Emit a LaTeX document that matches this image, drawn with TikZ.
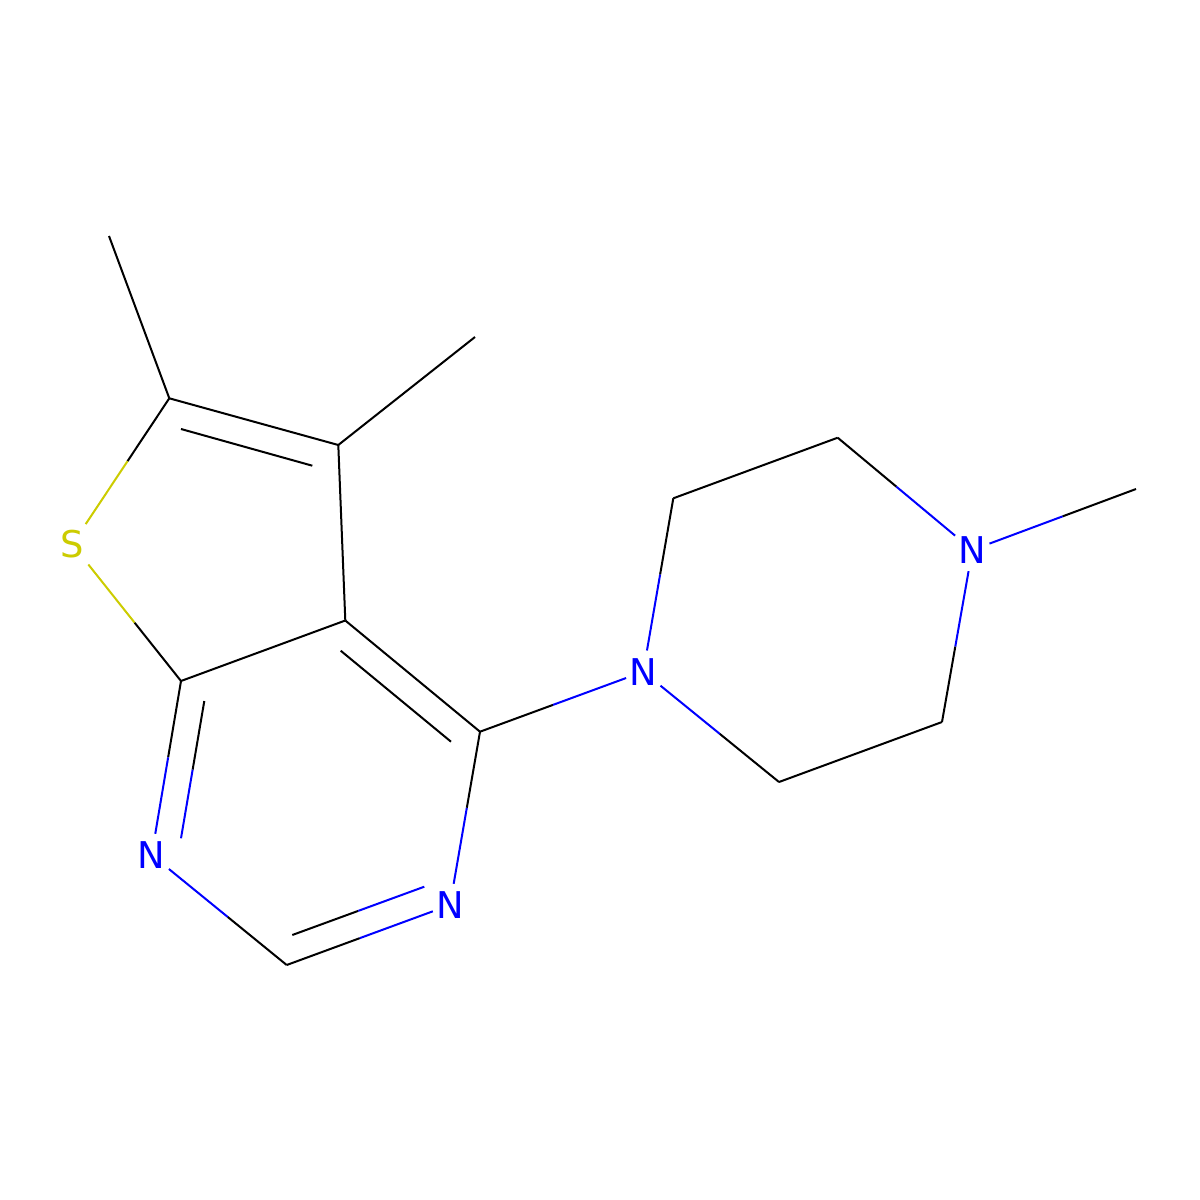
\documentclass[tikz,border=0pt]{standalone}
\usepackage{fontspec}
\setmainfont{DejaVu Sans}
\definecolor{nblue}{RGB}{0,0,255}
\definecolor{syel}{RGB}{204,204,0}
\tikzset{
  bondline/.style={line width=2bp, line cap=butt},
  atomlab/.style={rectangle, inner sep=0pt, minimum width=34bp, minimum height=42bp, font=\fontsize{37}{37}\selectfont},
  natom/.style={atomlab, text=nblue},
  satom/.style={atomlab, text=syel, minimum width=32bp, minimum height=40bp},
}
\newcommand\hbond[4]{%
  \path (#1) -- (#2) coordinate[pos=0.5] (hmid);
  \draw[bondline,#3] (#1) -- (hmid);
  \draw[bondline,#4] (hmid) -- (#2);}
\begin{document}
\begin{tikzpicture}[x=1bp,y=-1bp]
\useasboundingbox[fill=white] (0,0) rectangle (1200,1200);
% carbons
\coordinate (me1) at (109,236);
\coordinate (c6) at (169.3,398.3);
\coordinate (c5) at (338.3,445);
\coordinate (me2) at (475,337);
\coordinate (c7a) at (181,681);
\coordinate (c4a) at (345.3,620.5);
\coordinate (c4) at (480,731.7);
\coordinate (c2) at (286.7,965);
\coordinate (p1) at (673.3,498.3);
\coordinate (p2) at (837.7,437.7);
\coordinate (me3) at (1136,489);
\coordinate (p3) at (942,722);
\coordinate (p4) at (779,782);
% heteroatoms
\node[satom] (s) at (72.3,544.3) {S};
\node[natom] (n1) at (151.7,855) {N};
\node[natom] (n3) at (450,905) {N};
\node[natom] (np) at (643.3,671.7) {N};
\node[natom] (n4) at (972.3,550) {N};
% inner lines of double bonds
\coordinate (d1a) at (181,429);
\coordinate (d1b) at (312.3,465.7);
\coordinate (d2a) at (340.7,650.7);
\coordinate (d2b) at (451,741.7);
\coordinate (d3a) at (204.3,701);
\coordinate (d3b) at (181,838.3);
\coordinate (d4a) at (292.3,935);
\coordinate (d4b) at (424.3,886.7);
% bonds
\draw[bondline] (me1) -- (c6);
\draw[bondline] (c6) -- (c5);
\draw[bondline] (d1a) -- (d1b);
\draw[bondline] (c5) -- (me2);
\draw[bondline] (c5) -- (c4a);
\draw[bondline] (c4a) -- (c7a);
\draw[bondline] (c4a) -- (c4);
\draw[bondline] (d2a) -- (d2b);
\hbond{c6}{s}{black}{syel}
\hbond{s}{c7a}{syel}{black}
\hbond{c7a}{n1}{black}{nblue}
\hbond{d3a}{d3b}{black}{nblue}
\hbond{n1}{c2}{nblue}{black}
\hbond{c2}{n3}{black}{nblue}
\hbond{d4a}{d4b}{black}{nblue}
\hbond{n3}{c4}{nblue}{black}
\hbond{c4}{np}{black}{nblue}
\hbond{np}{p1}{nblue}{black}
\draw[bondline] (p1) -- (p2);
\hbond{p2}{n4}{black}{nblue}
\hbond{n4}{me3}{nblue}{black}
\hbond{n4}{p3}{nblue}{black}
\draw[bondline] (p3) -- (p4);
\hbond{p4}{np}{black}{nblue}
\end{tikzpicture}
\end{document}
